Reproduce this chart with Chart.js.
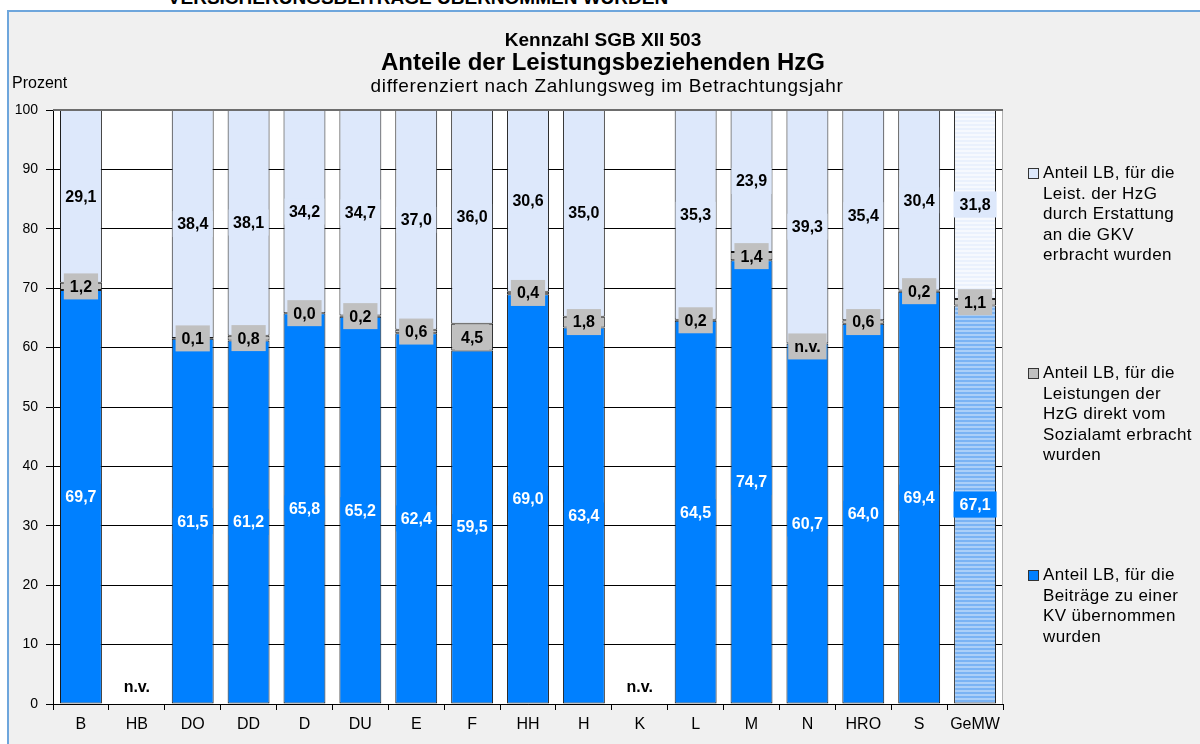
<!DOCTYPE html>
<html>
<head>
<meta charset="utf-8">
<script src="https://cdn.jsdelivr.net/npm/chart.js@4.4.1/dist/chart.umd.min.js"></script>
<style>
    html, body { margin: 0; padding: 0; width: 1200px; height: 744px; overflow: hidden; background: #fff; font-family: Arial, "Liberation Sans", sans-serif; }
    #frame { position: absolute; left: 7px; top: 10px; width: 1193px; height: 734px; background: #f0f0f0; border-top: 2px solid #6ea6dc; border-left: 2px solid #6ea6dc; box-sizing: border-box; }
    #cut { position: absolute; left: 0; top: -12px; width: 836px; text-align: center; font: bold 19px Arial, "Liberation Sans", sans-serif; line-height: 19px; color: #000; }
    #chartBox { position: absolute; left: 0; top: 0; width: 1200px; height: 744px; }
    .lg { position: absolute; left: 1043px; font: 17px Arial, "Liberation Sans", sans-serif; letter-spacing: 0.4px; line-height: 20.5px; color: #000; white-space: nowrap; }
    .sw { position: absolute; left: -15px; top: 5px; width: 9px; height: 9px; border: 1px solid #333; }
</style>
</head>
<body>
<div id="frame"></div>
<div id="cut">VERSICHERUNGSBEITRÄGE ÜBERNOMMEN WURDEN</div>
<div id="chartBox"><canvas id="kennzahlChart" width="1200" height="744"></canvas></div>
<div class="lg" style="top:163px"><span class="sw" id="sw-gkv"></span>Anteil LB, für die<br>Leist. der HzG<br>durch Erstattung<br>an die GKV<br>erbracht wurden</div>
<div class="lg" style="top:363px"><span class="sw" id="sw-amt"></span>Anteil LB, für die<br>Leistungen der<br>HzG direkt vom<br>Sozialamt erbracht<br>wurden</div>
<div class="lg" style="top:565px"><span class="sw" id="sw-kv"></span>Anteil LB, für die<br>Beiträge zu einer<br>KV übernommen<br>wurden</div>

<script>
    // Daten
    const categories      = ["B", "HB", "DO", "DD", "D", "DU", "E", "F", "HH", "H", "K", "L", "M", "N", "HRO", "S", "GeMW"];
    const kvBeitraege     = [69.7, null, 61.5, 61.2, 65.8, 65.2, 62.4, 59.5, 69.0, 63.4, null, 64.5, 74.7, 60.7, 64.0, 69.4, 67.1];
    const direktSozialamt = [1.2, null, 0.1, 0.8, 0.0, 0.2, 0.6, 4.5, 0.4, 1.8, null, 0.2, 1.4, null, 0.6, 0.2, 1.1];
    const erstattungGkv   = [29.1, null, 38.4, 38.1, 34.2, 34.7, 37.0, 36.0, 30.6, 35.0, null, 35.3, 23.9, 39.3, 35.4, 30.4, 31.8];
    const yMin = 0, yMax = 100, yStep = 10;

    const BLUE  = "#0080ff";
    const GRAY  = "#c0c0c0";
    const LIGHT = "#dde8fb";
    const FONT  = "Arial, 'Liberation Sans', sans-serif";

    document.getElementById("sw-kv").style.background  = BLUE;
    document.getElementById("sw-amt").style.background = GRAY;
    document.getElementById("sw-gkv").style.background = LIGHT;

    // striped fill for the GeMW column
    function stripes(c1, c2) {
        const p = document.createElement("canvas");
        p.width = 4; p.height = 4;
        const g = p.getContext("2d");
        g.fillStyle = c1; g.fillRect(0, 0, 4, 2);
        g.fillStyle = c2; g.fillRect(0, 2, 4, 2);
        return g.createPattern(p, "repeat");
    }

    const ctx = document.getElementById("kennzahlChart").getContext("2d");
    const blueFill  = categories.map(c => c === "GeMW" ? stripes("#7ab3f4", "#abcff8") : BLUE);
    const lightFill = categories.map(c => c === "GeMW" ? stripes("#eaf1fd", "#f6f9fe") : LIGHT);

    function fmt(v) {
        return v.toFixed(1).replace(".", ",");
    }

    // plot background + frame
    const plotBg = {
        id: "plotBg",
        beforeDraw(chart) {
            const a = chart.chartArea, c = chart.ctx;
            c.save();
            c.fillStyle = "#fff";
            c.fillRect(a.left, a.top, a.right - a.left, a.bottom - a.top);
            c.restore();
        },
        afterDatasetsDraw(chart) {
            const a = chart.chartArea, c = chart.ctx;
            c.save();
            c.strokeStyle = "#b0b0b0";
            c.lineWidth = 1;
            c.beginPath();
            c.moveTo(a.right - 0.5, a.top);
            c.lineTo(a.right - 0.5, a.bottom);
            c.stroke();
            c.strokeStyle = "#6d6d6d";
            c.lineWidth = 2;
            c.beginPath();
            c.moveTo(a.left, a.top);
            c.lineTo(a.right, a.top);
            c.stroke();
            c.restore();
        }
    };

    // Titel + Achsenbeschriftung
    const headerText = {
        id: "headerText",
        afterDraw(chart) {
            const c = chart.ctx;
            c.save();
            c.fillStyle = "#000";
            c.textAlign = "center";
            c.textBaseline = "middle";
            c.font = "bold 19px " + FONT;
            c.fillText("Kennzahl SGB XII 503", 603, 41);
            c.font = "bold 24px " + FONT;
            c.fillText("Anteile der Leistungsbeziehenden HzG", 603, 63);
            c.font = "19px " + FONT;
            c.letterSpacing = "0.7px";
            c.fillText("differenziert nach Zahlungsweg im Betrachtungsjahr", 607, 87);
            c.letterSpacing = "0px";
            c.textAlign = "left";
            c.font = "16px " + FONT;
            c.fillText("Prozent", 12, 84);
            c.restore();
        }
    };

    // Werte in Kästchen
    const valueLabels = {
        id: "valueLabels",
        afterDatasetsDraw(chart) {
            const c = chart.ctx, xs = chart.scales.x, ys = chart.scales.y;
            c.save();
            c.font = "bold 16px " + FONT;
            c.textAlign = "center";
            c.textBaseline = "middle";

            function box(txt, x, y, bg, fg, maxW) {
                const w = Math.min(c.measureText(txt).width + 12, maxW), h = 26;
                if (bg) {
                    c.fillStyle = bg;
                    c.fillRect(x - w / 2, y - h / 2, w, h);
                }
                c.fillStyle = fg;
                c.fillText(txt, x, y + 1);
            }

            chart.data.datasets.forEach((ds, di) => {
                const meta = chart.getDatasetMeta(di);
                ds.data.forEach((v, i) => {
                    const x = xs.getPixelForValue(i);
                    const el = meta.data[i];
                    const maxW = categories[i] === "GeMW" ? 60 : el.width - 2;
                    if (v === null) {
                        if (di === 1 && kvBeitraege[i] !== null) {
                            box("n.v.", x, ys.getPixelForValue(kvBeitraege[i]) + 3, ds.labelBg, ds.labelFg, maxW);
                        }
                        return;
                    }
                    box(fmt(v), x, (el.y + el.base) / 2, ds.labelBg, ds.labelFg, maxW);
                });
            });

            categories.forEach((cat, i) => {
                if (kvBeitraege[i] === null && direktSozialamt[i] === null && erstattungGkv[i] === null) {
                    box("n.v.", xs.getPixelForValue(i), ys.getPixelForValue(3), null, "#000", 60);
                }
            });
            c.restore();
        }
    };

    const barCommon = {
        borderColor: "#1a1a1a",
        borderWidth: 1,
        borderSkipped: false,
        barPercentage: 0.75,
        categoryPercentage: 1.0
    };

    new Chart(ctx, {
        type: "bar",
        data: {
            labels: categories,
            datasets: [
                Object.assign({
                    label: "Anteil LB, für die Beiträge zu einer KV übernommen wurden",
                    data: kvBeitraege,
                    backgroundColor: blueFill,
                    labelBg: BLUE,
                    labelFg: "#fff"
                }, barCommon),
                Object.assign({
                    label: "Anteil LB, für die Leistungen der HzG direkt vom Sozialamt erbracht wurden",
                    data: direktSozialamt,
                    backgroundColor: GRAY,
                    labelBg: GRAY,
                    labelFg: "#000"
                }, barCommon),
                Object.assign({
                    label: "Anteil LB, für die Leist. der HzG durch Erstattung an die GKV erbracht wurden",
                    data: erstattungGkv,
                    backgroundColor: lightFill,
                    labelBg: LIGHT,
                    labelFg: "#000"
                }, barCommon)
            ]
        },
        options: {
            responsive: false,
            animation: false,
            devicePixelRatio: 1,
            layout: { padding: { top: 110, right: 197, bottom: 0, left: 0 } },
            plugins: {
                legend: { display: false },
                title: { display: false },
                tooltip: { enabled: false }
            },
            scales: {
                x: {
                    stacked: true,
                    afterFit(scale) { scale.height = 40; },
                    grid: { offset: true, drawOnChartArea: false, drawTicks: true, tickLength: 6, color: "#000" },
                    border: { display: true, color: "#000", width: 1 },
                    ticks: { color: "#000", padding: 5, font: { family: FONT, size: 16 } }
                },
                y: {
                    stacked: true,
                    min: yMin,
                    max: yMax,
                    afterFit(scale) { scale.width = 53; },
                    grid: { color: "#000", lineWidth: 1, tickLength: 7, drawTicks: true },
                    border: { display: true, color: "#000", width: 1 },
                    ticks: { stepSize: yStep, color: "#000", padding: 8, font: { family: FONT, size: 14 } }
                }
            }
        },
        plugins: [plotBg, valueLabels, headerText]
    });
</script>
</body>
</html>
